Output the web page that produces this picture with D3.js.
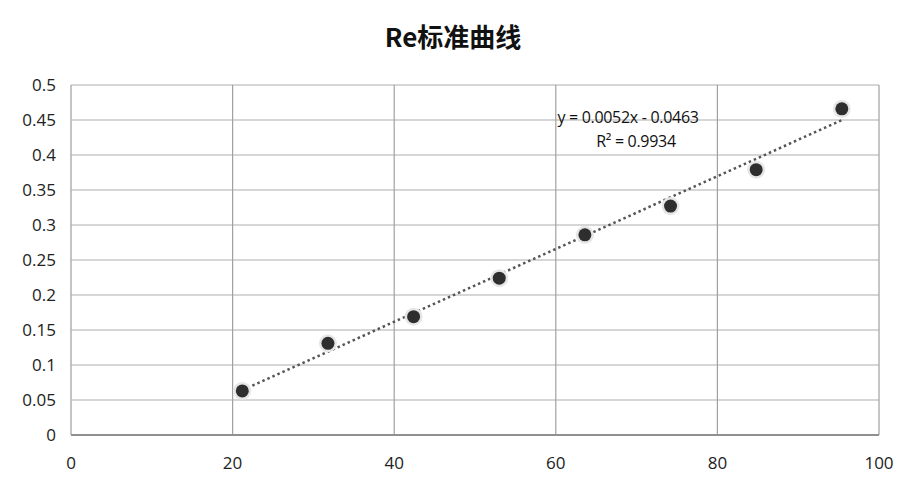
<!DOCTYPE html>
<html>
<head>
<meta charset="utf-8">
<script src="https://cdn.jsdelivr.net/npm/d3@7"></script>
<style>
  body { margin:0; background:#fff; }
  svg { display:block; font-family:"Open Sans","Noto Sans",sans-serif; }
</style>
</head>
<body>
<svg width="903" height="486"></svg>
<script>
const W = 903, H = 486;
const m = {l:71, r:24, t:85, b:51};  // plot margins

// data
const xs = [21.2, 31.8, 42.4, 53.0, 63.6, 74.2, 84.8, 95.4];
const ys = [0.063, 0.131, 0.169, 0.224, 0.286, 0.327, 0.379, 0.466];
const xTicks = [0, 20, 40, 60, 80, 100];
const yTicks = [0, 0.05, 0.1, 0.15, 0.2, 0.25, 0.3, 0.35, 0.4, 0.45, 0.5];
const slope = 0.0052, intercept = -0.0463;
const eqText = ['y = 0.0052x - 0.0463', 'R² = 0.9934'];

let svg = d3.select('svg');
let x = d3.scaleLinear().domain([0,100]).range([m.l, W-m.r]);
let y = d3.scaleLinear().domain([0,0.5]).range([H-m.b, m.t]);

// title
svg.append('text').attr('x', 453).attr('y', 47).attr('text-anchor','middle')
  .attr('font-size', 26).attr('font-weight','bold').attr('fill','#111')
  .attr('font-family','"Noto Sans CJK SC",sans-serif').text('Re标准曲线');

// horizontal grid
svg.append('g').attr('class','hgrid').selectAll('line').data(yTicks.slice(1)).enter().append('line')
  .attr('x1', x(0)).attr('x2', x(100)).attr('y1', d=>y(d)).attr('y2', d=>y(d))
  .attr('stroke', '#c8c8c8').attr('stroke-width', 1.5);

// vertical grid
svg.append('g').selectAll('line').data(xTicks.slice(1)).enter().append('line')
  .attr('x1', d=>x(d)).attr('x2', d=>x(d)).attr('y1', y(0)).attr('y2', y(0.5))
  .attr('stroke', '#a0a0a0').attr('stroke-width', 1.2);

// axes lines
svg.append('line').attr('x1', x(0)).attr('x2', x(0)).attr('y1', y(0)).attr('y2', y(0.5))
  .attr('stroke','#b0b0b0').attr('stroke-width',1.5);
svg.append('line').attr('x1', x(0)).attr('x2', x(100)).attr('y1', y(0)).attr('y2', y(0))
  .attr('stroke','#909090').attr('stroke-width',2);

// tick labels
svg.append('g').selectAll('text').data(yTicks).enter().append('text')
  .attr('x', x(0)-15).attr('y', d=>y(d)+6).attr('text-anchor','end')
  .attr('font-size', 17).attr('fill','#222').text(d=>d);
svg.append('g').selectAll('text').data(xTicks).enter().append('text')
  .attr('x', d=>x(d)).attr('y', y(0)+34).attr('text-anchor','middle')
  .attr('font-size', 17).attr('fill','#222').text(d=>d);

// trendline
const x0 = d3.min(xs), x1 = d3.max(xs);
svg.append('line')
  .attr('x1', x(x0)).attr('y1', y(slope*x0+intercept))
  .attr('x2', x(x1)).attr('y2', y(slope*x1+intercept))
  .attr('stroke','#555').attr('stroke-width',2.5).attr('stroke-dasharray','2.5,3');

// points
let pts = xs.map((v,i)=>({x:v, y:ys[i]}));
svg.append('g').selectAll('circle').data(pts).enter().append('circle')
  .attr('cx', d=>x(d.x)).attr('cy', d=>y(d.y)).attr('r', 9).attr('fill','#e6e6e6');
svg.append('g').selectAll('circle').data(pts).enter().append('circle')
  .attr('cx', d=>x(d.x)).attr('cy', d=>y(d.y)).attr('r', 6.5).attr('fill','#2e2e2e');

// equation
svg.append('g').selectAll('text').data(eqText).enter().append('text')
  .attr('x', (d,i)=> i ? 636 : 628).attr('y', (d,i)=>123 + i*24).attr('text-anchor','middle')
  .attr('font-size', 16).attr('letter-spacing', -0.3).attr('fill','#111').text(d=>d);
</script>
</body>
</html>
